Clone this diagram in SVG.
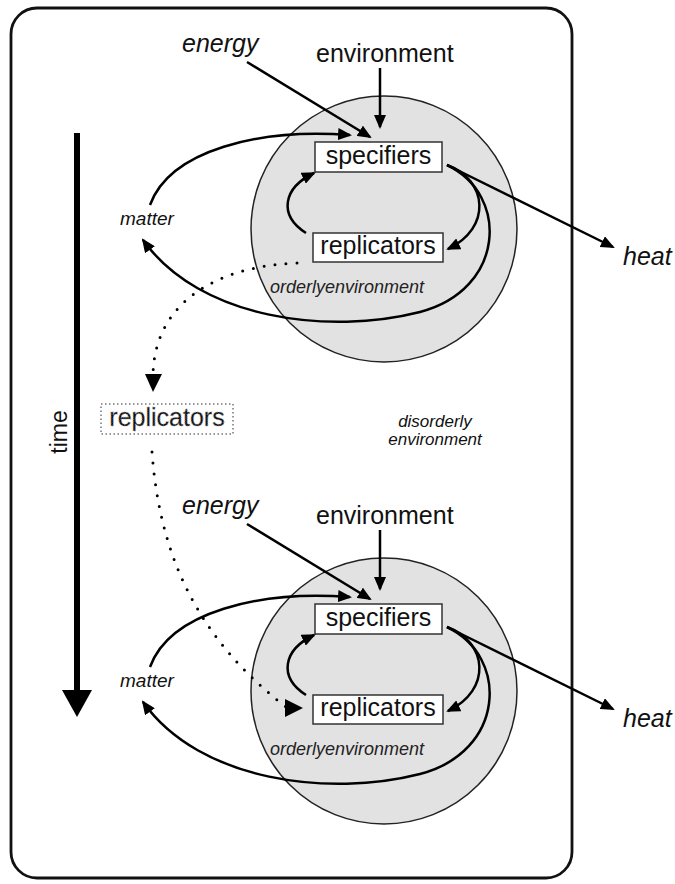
<svg xmlns="http://www.w3.org/2000/svg" width="675" height="884" viewBox="0 0 675 884">
<defs>
<style>
.frame{fill:#fff;stroke:#111;stroke-width:2.8}
.cell{fill:#e2e2e2;stroke:#222;stroke-width:1.5}
.box{fill:#fff;stroke:#333;stroke-width:1.5}
.t{font-family:"Liberation Sans",Arial,sans-serif;fill:#111}
.big{font-size:25px}
.it{font-style:italic}
.small{font-size:18px;fill:#222}
.ln{fill:none;stroke:#000;stroke-width:2.5}
.dot{fill:none;stroke:#000;stroke-width:3;stroke-linecap:round;stroke-dasharray:0 11}
</style>
<marker id="ah" viewBox="0 0 14 12" refX="12" refY="6" markerWidth="14" markerHeight="12" markerUnits="userSpaceOnUse" orient="auto">
<path d="M0,0 L14,6 L0,12 z" fill="#000"/>
</marker>
</defs>

<rect id="frame" class="frame" x="11" y="8" width="561" height="870" rx="26"/>

<g id="time-axis">
<line x1="77" y1="133" x2="77" y2="692" stroke="#000" stroke-width="6"/>
<polygon points="62,690 92,690 77,717" fill="#000"/>
<text class="t" x="67" y="432" font-size="23" text-anchor="middle" transform="rotate(-90 67 432)">time</text>
</g>

<g id="unit-top">
<circle id="cell-top" class="cell" cx="384" cy="229" r="133"/>
<g id="specifiers-top">
<rect class="box" x="315" y="142" width="127" height="30"/>
<text class="t big" x="378.5" y="164" text-anchor="middle">specifiers</text>
</g>
<g id="replicators-top">
<rect class="box" x="313" y="233" width="130" height="29"/>
<text class="t big" x="378" y="254" text-anchor="middle">replicators</text>
</g>
<g id="labels-top">
<text class="t big it" x="182" y="52">energy</text>
<text class="t big" x="316" y="62">environment</text>
<text class="t it" x="120" y="225" font-size="19">matter</text>
<text class="t big it" x="623" y="265">heat</text>
<text class="t it small" x="270" y="293">orderlyenvironment</text>
</g>
</g>

<g id="unit-bottom">
<circle id="cell-bottom" class="cell" cx="384" cy="691" r="133"/>
<g id="specifiers-bottom">
<rect class="box" x="315" y="604" width="127" height="30"/>
<text class="t big" x="378.5" y="626" text-anchor="middle">specifiers</text>
</g>
<g id="replicators-bottom">
<rect class="box" x="313" y="695" width="130" height="29"/>
<text class="t big" x="378" y="716" text-anchor="middle">replicators</text>
</g>
<g id="labels-bottom">
<text class="t big it" x="182" y="514">energy</text>
<text class="t big" x="316" y="524">environment</text>
<text class="t it" x="120" y="687" font-size="19">matter</text>
<text class="t big it" x="623" y="727">heat</text>
<text class="t it small" x="270" y="755">orderlyenvironment</text>
</g>
</g>

<g id="replicators-ghost">
<rect x="101" y="404" width="132" height="30" fill="#fff" stroke="#777" stroke-width="1.5" stroke-dasharray="1.5 2.5"/>
<text class="t big" x="167" y="426" text-anchor="middle" fill="#c4c4c4" stroke="#999" stroke-width="0.8" stroke-dasharray="1 1.2">replicators</text>
</g>

<g id="disorderly">
<text class="t it" x="435" y="427" font-size="17" text-anchor="middle" fill="#222">disorderly</text>
<text class="t it" x="435" y="445" font-size="17" text-anchor="middle" fill="#222">environment</text>
</g>

<g id="connectors">
<g id="connectors-top">
<path class="ln" d="M247,62 L370,137" marker-end="url(#ah)"/>
<path class="ln" d="M380,68 L380,127" marker-end="url(#ah)"/>
<path class="ln" d="M150,205 C170,150 260,128 350,135" marker-end="url(#ah)"/>
<path class="ln" stroke-width="2.8" d="M447,165 C510,195 505,290 420,312 C330,335 200,320 143,240" marker-end="url(#ah)"/>
<path class="ln" d="M447,165 C488,180 492,228 448,249" marker-end="url(#ah)"/>
<path class="ln" d="M447,165 L613,247" marker-end="url(#ah)"/>
<path class="ln" d="M306,233 C278,215 283,188 314,173" marker-end="url(#ah)"/>
</g>
<g id="connectors-bottom" transform="translate(0,462)">
<path class="ln" d="M247,62 L370,137" marker-end="url(#ah)"/>
<path class="ln" d="M380,68 L380,127" marker-end="url(#ah)"/>
<path class="ln" d="M150,205 C170,150 260,128 350,135" marker-end="url(#ah)"/>
<path class="ln" stroke-width="2.8" d="M447,165 C510,195 505,290 420,312 C330,335 200,320 143,240" marker-end="url(#ah)"/>
<path class="ln" d="M447,165 C488,180 492,228 448,249" marker-end="url(#ah)"/>
<path class="ln" d="M447,165 L613,247" marker-end="url(#ah)"/>
<path class="ln" d="M306,233 C278,215 283,188 314,173" marker-end="url(#ah)"/>
</g>
<g id="lineage">
<path class="dot" d="M297,263 C220,266 155,300 153,374"/>
<polygon points="145,374 162,374 153,392" fill="#000"/>
<path class="dot" d="M152,452 C160,560 200,640 286,707"/>
<polygon points="285,699 285,717 303,708" fill="#000"/>
</g>
</g>
</svg>
